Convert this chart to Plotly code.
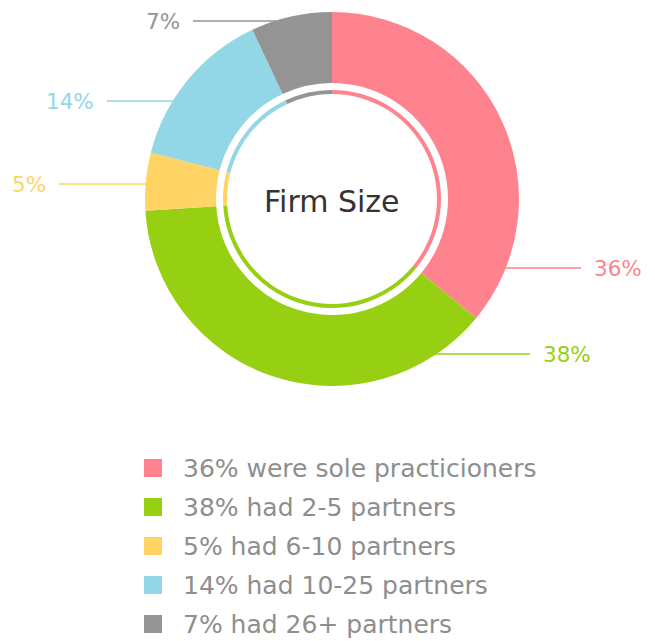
import math
import plotly.graph_objects as go

# data
labels = ["36% were sole practicioners", "38% had 2-5 partners", "5% had 6-10 partners",
          "14% had 10-25 partners", "7% had 26+ partners"]
values = [36, 38, 5, 14, 7]
pct_text = ["36%", "38%", "5%", "14%", "7%"]
colors = ["#FF838F", "#97D013", "#FFD364", "#93D6E6", "#949494"]
center_title = "Firm Size"

W, H = 655, 641
CX, CY = 332, 199
R_OUT, R_IN = 187, 116
R_RING, R_RING_IN = 109, 105

# label placement (pixels): y of leader line, outer end of leader line, side
lab_y = [268, 354, 184, 101, 21]
lab_end = [581, 530, 59, 107, 193]
lab_side = [1, 1, -1, -1, -1]

FONT = "DejaVu Sans, sans-serif"


def dom(r):
    x = [(CX - r) / W, (CX + r) / W]
    y = [1 - (CY + r) / H, 1 - (CY - r) / H]
    return dict(x=x, y=y)


fig = go.Figure()
fig.add_trace(go.Pie(values=values, labels=labels, sort=False, direction="clockwise",
                     rotation=0, hole=R_IN / R_OUT, domain=dom(R_OUT),
                     marker=dict(colors=colors, line=dict(width=0)),
                     textinfo="none", hoverinfo="label", showlegend=False))
fig.add_trace(go.Pie(values=values, labels=labels, sort=False, direction="clockwise",
                     rotation=0, hole=R_RING_IN / R_RING, domain=dom(R_RING),
                     marker=dict(colors=colors, line=dict(width=0)),
                     textinfo="none", hoverinfo="skip", showlegend=False))

shapes = []
annotations = []
for i in range(len(values)):
    y = lab_y[i]
    dx = math.sqrt(max(R_OUT ** 2 - (y - CY) ** 2, 0))
    x0 = CX + lab_side[i] * (dx - 2)
    x1 = lab_end[i]
    shapes.append(dict(type="line", xref="x", yref="y", x0=x0, x1=x1, y0=y, y1=y,
                       line=dict(color=colors[i], width=1.5)))
    annotations.append(dict(xref="x", yref="y", x=x1 + lab_side[i] * 11, y=y,
                            text=pct_text[i], showarrow=False,
                            xanchor="left" if lab_side[i] > 0 else "right", yanchor="middle",
                            font=dict(family=FONT, size=21.5, color=colors[i])))

annotations.append(dict(xref="x", yref="y", x=CX, y=CY + 2, text=center_title, showarrow=False,
                        font=dict(family=FONT, size=30, color="#333333")))

# legend
leg_y0, leg_step = 468, 39
for i in range(len(labels)):
    y = leg_y0 + i * leg_step
    shapes.append(dict(type="rect", xref="x", yref="y", x0=144, x1=162, y0=y - 9, y1=y + 9,
                       fillcolor=colors[i], line=dict(width=0)))
    annotations.append(dict(xref="x", yref="y", x=181, y=y, text=labels[i], showarrow=False,
                            xanchor="left", yanchor="middle",
                            font=dict(family=FONT, size=25, color="#8E8E8E")))

fig.update_layout(
    width=W, height=H,
    margin=dict(l=0, r=0, t=0, b=0),
    paper_bgcolor="white", plot_bgcolor="white",
    xaxis=dict(range=[0, W], visible=False, fixedrange=True),
    yaxis=dict(range=[H, 0], visible=False, fixedrange=True),
    shapes=shapes, annotations=annotations,
    showlegend=False,
)

# page has a default body margin; drop it so the figure sits at the window's corner
fig.write_html("out.html", config={"displayModeBar": False},
               post_script="document.body.style.margin='0';")
